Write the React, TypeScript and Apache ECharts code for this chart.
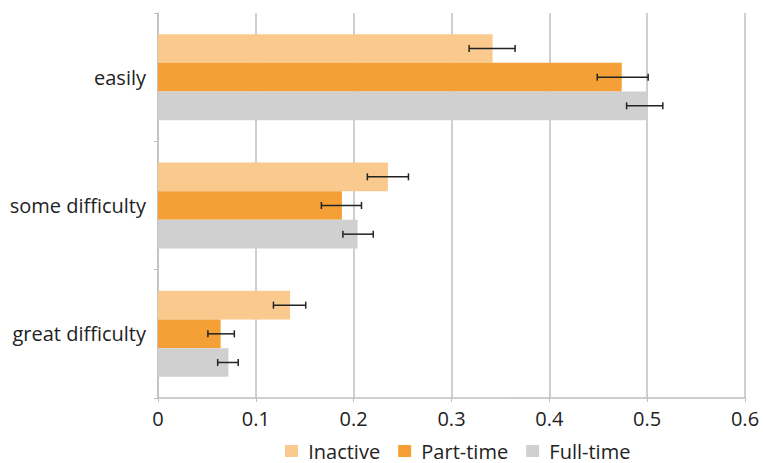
import React, { useEffect, useRef } from "react";
import * as echarts from "echarts";

const categories = ["easily", "some difficulty", "great difficulty"];
const seriesNames = ["Inactive", "Part-time", "Full-time"];
const inactive = [0.342, 0.235, 0.135];
const partTime = [0.474, 0.188, 0.064];
const fullTime = [0.499, 0.204, 0.072];
const inactiveLow = [0.318, 0.214, 0.118];
const inactiveHigh = [0.365, 0.256, 0.151];
const partTimeLow = [0.449, 0.167, 0.051];
const partTimeHigh = [0.501, 0.208, 0.078];
const fullTimeLow = [0.479, 0.189, 0.061];
const fullTimeHigh = [0.516, 0.22, 0.082];
const xTicks = [0, 0.1, 0.2, 0.3, 0.4, 0.5, 0.6];

const colors = ["#F9C98E", "#F4A037", "#D0D0D0"];
const CAT_GAP = 0.33;
const FONT = "'Open Sans', sans-serif";

export default function App() {
  const ref = useRef<HTMLDivElement>(null);
  useEffect(() => {
    if (!ref.current) return;
    const chart = echarts.init(ref.current, undefined, { renderer: "svg" });
    const values = [inactive, partTime, fullTime];
    const lows = [inactiveLow, partTimeLow, fullTimeLow];
    const highs = [inactiveHigh, partTimeHigh, fullTimeHigh];

    const barSeries = seriesNames.map((name, i) => ({
      name,
      type: "bar",
      data: values[i],
      itemStyle: { color: colors[i] },
      barGap: "0%",
      barCategoryGap: CAT_GAP * 100 + "%",
      emphasis: { disabled: true },
    }));

    const errData: number[][] = [];
    seriesNames.forEach((_, s) => {
      categories.forEach((_, c) => {
        errData.push([c, lows[s][c], highs[s][c], s]);
      });
    });

    const errSeries = {
      type: "custom",
      name: "err",
      data: errData,
      encode: { x: [1, 2], y: 0 },
      z: 10,
      renderItem: (params: any, api: any) => {
        const c = api.value(0);
        const lo = api.value(1);
        const hi = api.value(2);
        const s = api.value(3);
        const band = api.size([0, 1])[1];
        const barW = (band * (1 - CAT_GAP)) / 3;
        const p1 = api.coord([lo, c]);
        const p2 = api.coord([hi, c]);
        const y = p1[1] - (band * (1 - CAT_GAP)) / 2 + barW * (s + 0.5);
        const cap = 3.5;
        const style = { stroke: "#222", lineWidth: 1.5 };
        return {
          type: "group",
          children: [
            { type: "line", shape: { x1: p1[0], y1: y, x2: p2[0], y2: y }, style },
            { type: "line", shape: { x1: p1[0], y1: y - cap, x2: p1[0], y2: y + cap }, style },
            { type: "line", shape: { x1: p2[0], y1: y - cap, x2: p2[0], y2: y + cap }, style },
          ],
        };
      },
    };

    chart.setOption({
      animation: false,
      grid: { left: 158, right: 18, top: 13, bottom: 65, containLabel: false },
      legend: {
        data: seriesNames,
        top: 441,
        left: 285,
        padding: 0,
        itemWidth: 13,
        itemHeight: 12,
        itemGap: 18,
        icon: "rect",
        formatter: (name: string) => " " + name,
        textStyle: { fontFamily: FONT, fontSize: 20, lineHeight: 20, color: "#222" },
      },
      xAxis: {
        type: "value",
        min: 0,
        max: 0.6,
        interval: 0.1,
        axisLine: { show: true, lineStyle: { color: "#BFBFBF", width: 1.5 } },
        axisTick: { show: true, length: 4, lineStyle: { color: "#BFBFBF" } },
        splitLine: { show: true, lineStyle: { color: "#BFBFBF", width: 1.5 } },
        axisLabel: {
          fontFamily: FONT,
          fontSize: 20,
          color: "#222",
          margin: 10,
          formatter: (v: number) => {
            const t = xTicks.find((x) => Math.abs(x - v) < 1e-9);
            return t === undefined ? "" : String(t);
          },
        },
      },
      yAxis: {
        type: "category",
        data: categories,
        inverse: true,
        axisLine: { show: true, lineStyle: { color: "#BFBFBF", width: 1.5 } },
        axisTick: { show: true, length: 4, lineStyle: { color: "#BFBFBF" } },
        axisLabel: { fontFamily: FONT, fontSize: 20, color: "#222", margin: 12 },
      },
      series: [...barSeries, errSeries],
    });
    return () => chart.dispose();
  }, []);
  return (
    <div
      ref={ref}
      style={{ position: "absolute", left: 0, top: 0, width: 763, height: 463 }}
    />
  );
}
